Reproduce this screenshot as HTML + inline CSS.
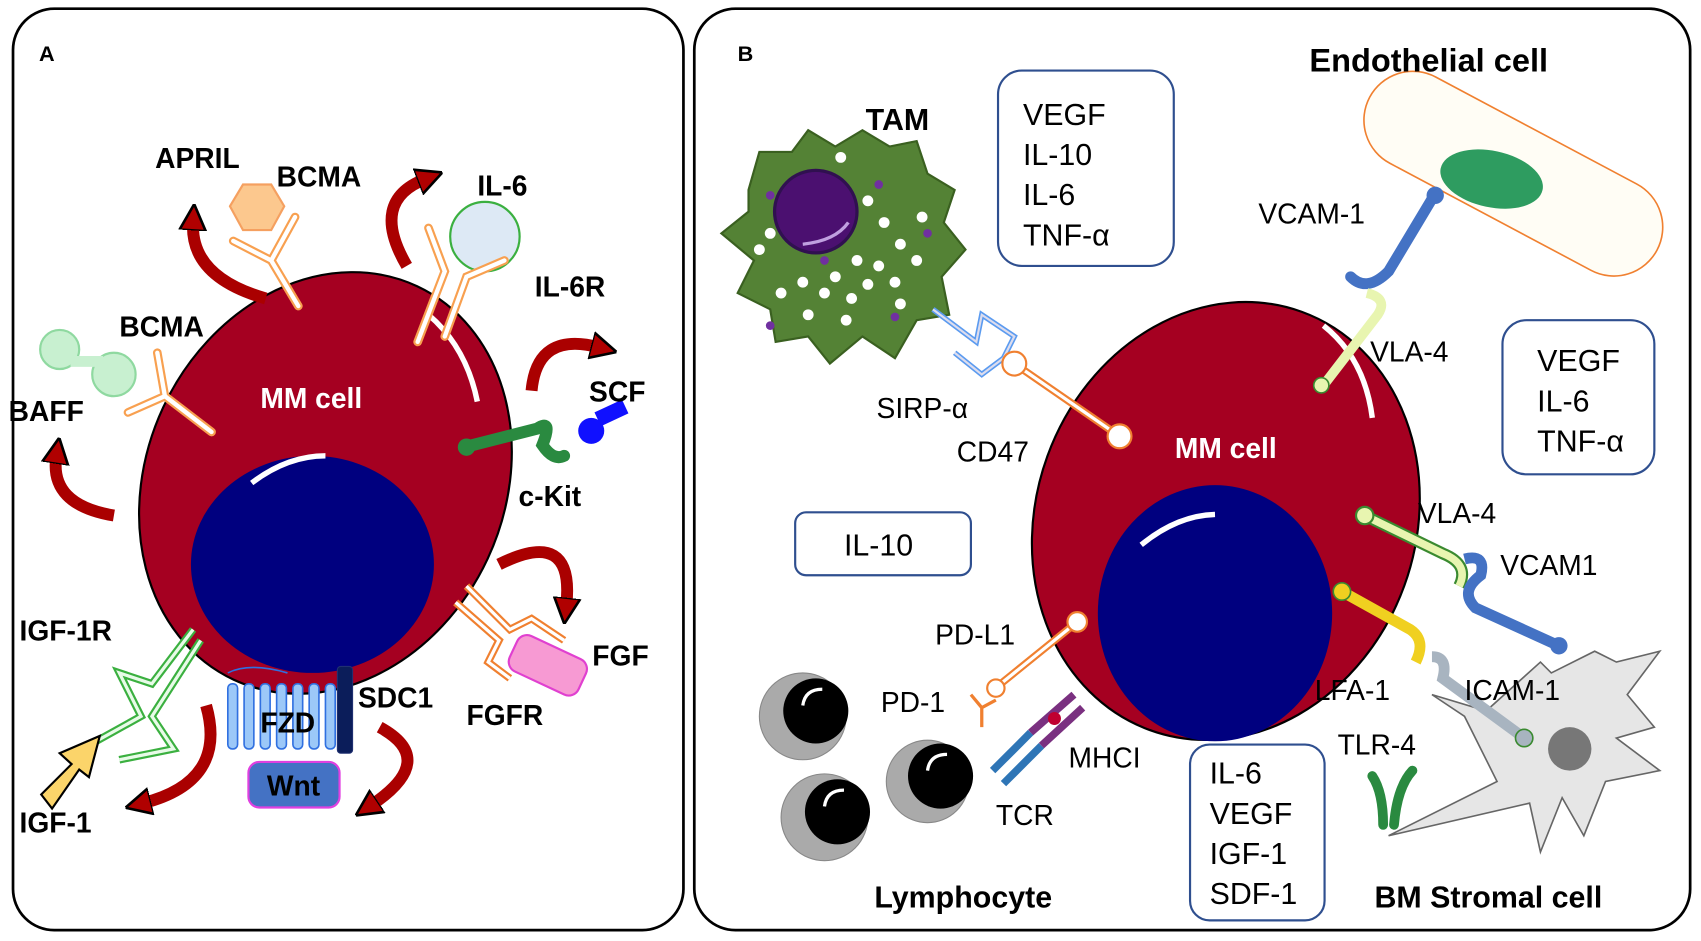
<!DOCTYPE html>
<html><head><meta charset="utf-8"><style>
html,body{margin:0;padding:0;background:#fff}
svg{display:block}
text{font-family:"Liberation Sans",Arial,sans-serif}
.b{font-weight:bold}
</style></head><body>
<svg width="1701" height="941" viewBox="0 0 1568 867" preserveAspectRatio="none" xmlns="http://www.w3.org/2000/svg">
<defs>
<marker id="ah" viewBox="0 0 10 10" refX="3" refY="5" markerWidth="2.2" markerHeight="2.4" orient="auto">
<path d="M0,0 L10,5 L0,10 z" fill="#b00000" stroke="#000" stroke-width="1"/>
</marker>
</defs>
<rect x="12" y="8" width="618" height="849" rx="38" fill="#fff" stroke="#000" stroke-width="2.5"/>
<rect x="640" y="8" width="918" height="849" rx="38" fill="#fff" stroke="#000" stroke-width="2.5"/>
<text x="36" y="56" class="b" font-size="20">A</text>
<text x="680" y="56" class="b" font-size="20">B</text>

<!-- ===== Panel A ===== -->
<g>
<ellipse cx="300" cy="445" rx="165" ry="200" transform="rotate(25 300 445)" fill="#a50021" stroke="#000" stroke-width="2"/>
<path d="M395,290 Q430,320 440,370" stroke="#fff" stroke-width="5" fill="none"/>
<ellipse cx="288" cy="520" rx="112" ry="100" fill="#00007f"/>
<path d="M232,445 Q265,420 300,420" stroke="#fff" stroke-width="5" fill="none"/>
<text x="240" y="376" class="b" font-size="26" fill="#fff">MM cell</text>
</g>
<g stroke="#a00" stroke-width="11" fill="none" marker-end="url(#ah)">
<path d="M245,275 Q175,255 178,205"/>
<path d="M375,245 Q340,185 392,165"/>
<path d="M490,360 Q495,305 552,320"/>
<path d="M105,475 Q45,465 52,420"/>
<path d="M460,520 Q530,485 522,558"/>
<path d="M190,650 Q210,720 132,740"/>
<path d="M350,670 Q405,700 342,742"/>
</g>
<polygon points="212,190 224,170 250,170 262,190 250,212 224,212" fill="#fcc88e" stroke="#f5a060" stroke-width="2"/>
<g stroke="#f8a050" stroke-width="8" fill="none" stroke-linecap="round"><path d="M275,282 L250,240 M250,240 L215,222 M250,240 L272,200"/></g>
<g stroke="#fff" stroke-width="4" fill="none" stroke-linecap="round"><path d="M275,282 L250,240 M250,240 L215,222 M250,240 L272,200"/></g>
<circle cx="447" cy="218" r="32" fill="#dde9f5" stroke="#3bb040" stroke-width="2"/>
<g stroke="#f8a050" stroke-width="8" fill="none" stroke-linecap="round"><path d="M385,315 L410,250 L395,210 M410,310 L430,255 L465,240"/></g>
<g stroke="#fff" stroke-width="4" fill="none" stroke-linecap="round"><path d="M385,315 L410,250 L395,210 M410,310 L430,255 L465,240"/></g>
<circle cx="55" cy="322" r="18" fill="#c8f0d0" stroke="#8fd9a0" stroke-width="2"/>
<circle cx="105" cy="345" r="20" fill="#c8f0d0" stroke="#8fd9a0" stroke-width="2"/>
<rect x="65" y="328" width="30" height="10" fill="#c8f0d0"/>
<g stroke="#f8a050" stroke-width="8" fill="none" stroke-linecap="round"><path d="M195,398 L152,365 M152,365 L118,380 M152,365 L145,325"/></g>
<g stroke="#fff" stroke-width="4" fill="none" stroke-linecap="round"><path d="M195,398 L152,365 M152,365 L118,380 M152,365 L145,325"/></g>
<path d="M428,412 L495,395 Q510,385 500,410 Q510,425 520,420" stroke="#2a8a40" stroke-width="11" fill="none" stroke-linecap="round"/>
<circle cx="430" cy="412" r="8" fill="#2a8a40"/>
<circle cx="545" cy="397" r="12" fill="#1010ff"/>
<rect x="548" y="380" width="28" height="14" fill="#1010ff" transform="rotate(-25 548 380)"/>
<g stroke="#f08030" stroke-width="7" fill="none"><path d="M430,540 L470,580 L490,570 L520,590 M420,555 L460,590 L450,610 L470,625"/></g>
<g stroke="#fff" stroke-width="3" fill="none"><path d="M430,540 L470,580 L490,570 L520,590 M420,555 L460,590 L450,610 L470,625"/></g>
<rect x="470" y="595" width="70" height="36" rx="10" fill="#f79ad3" stroke="#e040d0" stroke-width="2" transform="rotate(25 505 613)"/>
<g stroke="#3bb040" stroke-width="7" fill="none"><path d="M178,580 L140,630 L110,620 L130,660 L85,685 M185,590 L140,660 L160,690 L110,700"/></g>
<g stroke="#e8fbe8" stroke-width="3" fill="none"><path d="M178,580 L140,630 L110,620 L130,660 L85,685 M185,590 L140,660 L160,690 L110,700"/></g>
<polygon points="38,732 66,704 55,694 92,678 82,716 73,709 48,745" fill="#fbd46a" stroke="#000" stroke-width="2"/>
<g fill="#9cc8f8" stroke="#3070e0" stroke-width="1.5">
<rect x="210" y="630" width="9" height="60" rx="4"/><rect x="225" y="630" width="9" height="60" rx="4"/><rect x="240" y="630" width="9" height="60" rx="4"/><rect x="255" y="630" width="9" height="60" rx="4"/><rect x="270" y="630" width="9" height="60" rx="4"/><rect x="285" y="630" width="9" height="60" rx="4"/><rect x="300" y="630" width="9" height="60" rx="4"/>
</g>
<path d="M210,620 Q230,610 265,620" stroke="#3070e0" stroke-width="1.5" fill="none"/>
<rect x="311" y="614" width="14" height="80" rx="3" fill="#0b1d5a" stroke="#203070"/>
<text x="240" y="675" class="b" font-size="26">FZD</text>
<rect x="229" y="702" width="84" height="42" rx="10" fill="#4472c4" stroke="#e040e0" stroke-width="2"/>
<text x="246" y="733" class="b" font-size="26">Wnt</text>
<g class="b" font-size="26">
<text x="143" y="155">APRIL</text>
<text x="255" y="172">BCMA</text>
<text x="440" y="180">IL-6</text>
<text x="493" y="273">IL-6R</text>
<text x="110" y="310">BCMA</text>
<text x="8" y="388">BAFF</text>
<text x="543" y="370">SCF</text>
<text x="478" y="466">c-Kit</text>
<text x="18" y="590">IGF-1R</text>
<text x="546" y="613">FGF</text>
<text x="330" y="652">SDC1</text>
<text x="430" y="668">FGFR</text>
<text x="18" y="767">IGF-1</text>
</g>

<!-- ===== Panel B ===== -->
<path d="M690,175 L700,140 L730,140 L745,120 L770,135 L795,120 L820,135 L845,130 L855,160 L880,175 L870,205 L890,230 L868,255 L875,290 L845,295 L825,330 L795,310 L765,335 L745,310 L715,315 L710,285 L680,270 L695,240 L665,215 L690,195 Z" fill="#548235" stroke="#3a6020" stroke-width="2"/>
<circle cx="752" cy="195" r="38" fill="#4b1070" stroke="#301050" stroke-width="3"/>
<path d="M740,225 Q770,222 782,205" stroke="#c0a0e0" stroke-width="3" fill="none"/>
<g fill="#fff">
<circle cx="800" cy="185" r="5"/><circle cx="815" cy="205" r="5"/><circle cx="830" cy="225" r="5"/><circle cx="790" cy="240" r="5"/><circle cx="810" cy="245" r="5"/><circle cx="770" cy="255" r="5"/><circle cx="760" cy="270" r="5"/><circle cx="785" cy="275" r="5"/><circle cx="800" cy="262" r="5"/><circle cx="825" cy="260" r="5"/><circle cx="845" cy="240" r="5"/><circle cx="740" cy="260" r="5"/><circle cx="720" cy="270" r="5"/><circle cx="700" cy="230" r="5"/><circle cx="710" cy="215" r="5"/><circle cx="775" cy="145" r="5"/><circle cx="745" cy="290" r="5"/><circle cx="780" cy="295" r="5"/><circle cx="830" cy="280" r="5"/><circle cx="850" cy="200" r="5"/>
</g>
<g fill="#7030a0"><circle cx="710" cy="180" r="4"/><circle cx="810" cy="170" r="4"/><circle cx="855" cy="215" r="4"/><circle cx="825" cy="292" r="4"/><circle cx="710" cy="300" r="4"/><circle cx="760" cy="240" r="4"/></g>
<text x="798" y="120" class="b" font-size="28">TAM</text>
<path d="M860,285 L900,315 L905,290 L935,310 L925,330 L905,345 L880,325" stroke="#5b9bf0" stroke-width="5" fill="none"/>
<path d="M860,285 L900,315 L905,290 L935,310 L925,330 L905,345 L880,325" stroke="#dde" stroke-width="2" fill="none"/>
<rect x="1245" y="115" width="300" height="90" rx="45" fill="#fffdf5" stroke="#f08030" stroke-width="1.5" transform="rotate(28 1395 160)"/>
<ellipse cx="1375" cy="165" rx="48" ry="26" fill="#2e9c60" transform="rotate(12 1375 165)"/>
<text x="1207" y="66" class="b" font-size="30">Endothelial cell</text>
<path d="M1280,770 L1380,720 L1350,660 L1320,640 L1370,655 L1420,610 L1430,620 L1470,600 L1490,610 L1530,600 L1500,640 L1525,670 L1490,680 L1530,710 L1480,720 L1460,770 L1440,735 L1420,785 L1410,740 Z" fill="#e6e6e6" stroke="#666" stroke-width="1.5"/>
<circle cx="1447" cy="690" r="20" fill="#777"/>
<ellipse cx="1130" cy="480" rx="175" ry="205" transform="rotate(20 1130 480)" fill="#a50021" stroke="#000" stroke-width="2"/>
<path d="M1220,300 Q1258,330 1265,385" stroke="#fff" stroke-width="5" fill="none"/>
<ellipse cx="1120" cy="565" rx="108" ry="118" fill="#00007f"/>
<path d="M1052,502 Q1085,475 1120,474" stroke="#fff" stroke-width="5" fill="none"/>
<text x="1083" y="422" class="b" font-size="26" fill="#fff">MM cell</text>
<line x1="935" y1="335" x2="1032" y2="402" stroke="#f08030" stroke-width="7"/><line x1="935" y1="335" x2="1032" y2="402" stroke="#fff" stroke-width="3"/>
<circle cx="935" cy="335" r="11" fill="#fff" stroke="#f08030" stroke-width="2"/>
<circle cx="1032" cy="402" r="11" fill="#fff" stroke="#f08030" stroke-width="2"/>
<path d="M1322,180 L1280,250 Q1260,270 1245,255" stroke="#4472c4" stroke-width="10" fill="none" stroke-linecap="round"/>
<circle cx="1323" cy="180" r="8" fill="#4472c4"/>
<path d="M1260,270 Q1280,275 1270,290 L1220,355" stroke="#e8f5b0" stroke-width="9" fill="none"/>
<circle cx="1218" cy="355" r="7" fill="#e8f5b0" stroke="#3a8a30" stroke-width="1.5"/>
<path d="M1258,475 L1330,510 Q1355,520 1345,540" stroke="#3a8a30" stroke-width="11" fill="none"/>
<path d="M1258,475 L1330,510 Q1355,520 1345,540" stroke="#e8f5b0" stroke-width="7" fill="none"/>
<circle cx="1258" cy="475" r="8" fill="#e8f5b0" stroke="#3a8a30" stroke-width="2"/>
<path d="M1350,515 Q1370,510 1365,530 Q1345,545 1360,560 L1437,595" stroke="#4472c4" stroke-width="10" fill="none"/>
<circle cx="1437" cy="595" r="8" fill="#4472c4"/>
<path d="M1237,545 L1300,580 Q1315,590 1305,610" stroke="#f0d020" stroke-width="10" fill="none"/>
<circle cx="1237" cy="545" r="8" fill="#f0d020" stroke="#3a8a30" stroke-width="1.5"/>
<path d="M1320,605 Q1335,605 1330,625 L1405,680" stroke="#a8b4c0" stroke-width="10" fill="none"/>
<circle cx="1405" cy="680" r="8" fill="#a8b4c0" stroke="#3a8a30" stroke-width="1.5"/>
<path d="M1265,715 Q1275,730 1275,760 M1285,760 Q1288,725 1302,710" stroke="#2a8a40" stroke-width="9" fill="none" stroke-linecap="round"/>
<line x1="993" y1="573" x2="920" y2="632" stroke="#f08030" stroke-width="7"/><line x1="993" y1="573" x2="920" y2="632" stroke="#fff" stroke-width="3"/>
<circle cx="993" cy="573" r="9" fill="#fff" stroke="#f08030" stroke-width="2"/>
<circle cx="918" cy="634" r="8" fill="#fff" stroke="#f08030" stroke-width="2"/>
<path d="M905,670 L905,652 L895,640 M905,652 L918,645" stroke="#f08030" stroke-width="3" fill="none"/>
<g stroke="#7a3080" stroke-width="7"><line x1="990" y1="640" x2="950" y2="675"/><line x1="998" y1="652" x2="960" y2="687"/></g>
<circle cx="972" cy="662" r="6" fill="#c00030"/>
<g stroke="#2e75b6" stroke-width="7"><line x1="950" y1="675" x2="915" y2="710"/><line x1="960" y1="687" x2="925" y2="722"/></g>
<g>
<circle cx="740" cy="660" r="40" fill="#aaa" stroke="#888"/><circle cx="752" cy="655" r="30" fill="#000"/><path d="M740,650 Q742,635 758,635" stroke="#fff" stroke-width="3" fill="none"/>
<circle cx="760" cy="753" r="40" fill="#aaa" stroke="#888"/><circle cx="772" cy="748" r="30" fill="#000"/><path d="M760,743 Q762,728 778,728" stroke="#fff" stroke-width="3" fill="none"/>
<circle cx="855" cy="720" r="38" fill="#aaa" stroke="#888"/><circle cx="867" cy="715" r="30" fill="#000"/><path d="M855,710 Q857,695 873,695" stroke="#fff" stroke-width="3" fill="none"/>
</g>
<g fill="#fff" stroke="#2f4f8f" stroke-width="2">
<rect x="920" y="65" width="162" height="180" rx="22"/>
<rect x="1385" y="295" width="140" height="142" rx="22"/>
<rect x="733" y="472" width="162" height="58" rx="10"/>
<rect x="1097" y="686" width="124" height="162" rx="18"/>
</g>
<g font-size="28">
<text x="943" y="115">VEGF</text><text x="943" y="152">IL-10</text><text x="943" y="189">IL-6</text><text x="943" y="226">TNF-α</text>
<text x="1417" y="342">VEGF</text><text x="1417" y="379">IL-6</text><text x="1417" y="416">TNF-α</text>
<text x="778" y="512">IL-10</text>
<text x="1115" y="722">IL-6</text><text x="1115" y="759">VEGF</text><text x="1115" y="796">IGF-1</text><text x="1115" y="833">SDF-1</text>
</g>
<g font-size="26">
<text x="1160" y="206">VCAM-1</text>
<text x="1263" y="333">VLA-4</text>
<text x="808" y="385">SIRP-α</text>
<text x="882" y="425">CD47</text>
<text x="1307" y="482">VLA-4</text>
<text x="1383" y="530">VCAM1</text>
<text x="862" y="594">PD-L1</text>
<text x="812" y="656">PD-1</text>
<text x="1212" y="645">LFA-1</text>
<text x="1350" y="645">ICAM-1</text>
<text x="1233" y="695">TLR-4</text>
<text x="985" y="707">MHCI</text>
<text x="918" y="760">TCR</text>
</g>
<text x="806" y="836" class="b" font-size="28">Lymphocyte</text>
<text x="1267" y="836" class="b" font-size="28">BM Stromal cell</text>
</svg>
</body></html>
